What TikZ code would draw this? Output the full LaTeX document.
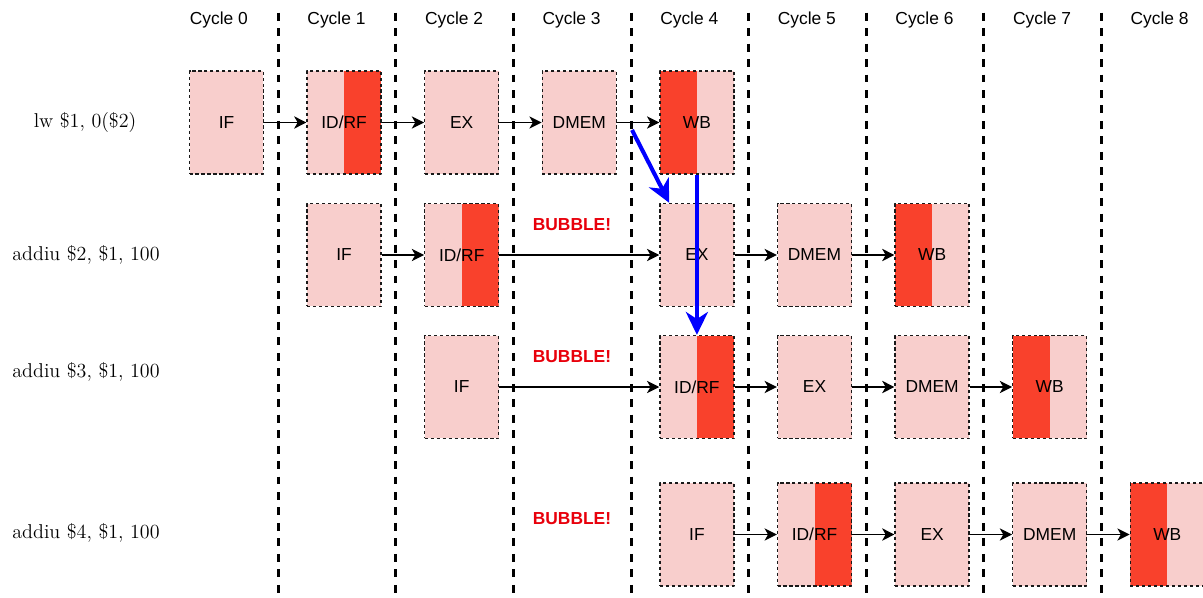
\documentclass[tikz,border=0pt]{standalone}
\usepackage{fontspec}
\usetikzlibrary{arrows.meta,calc}
\newfontfamily\sansfnt{Liberation Sans}
\definecolor{stagepink}{HTML}{F8CECC}
\definecolor{stagered}{HTML}{F9412C}
\definecolor{bubblered}{HTML}{E8000B}

\begin{document}
\begin{tikzpicture}[x=0.02cm, y=-0.02cm, line join=round,
  stage/.style={draw=black!90, dash pattern=on 1.8pt off 1.6pt, line width=0.75pt, fill=stagepink,
    minimum width=1.48cm, minimum height=2.06cm, inner sep=0pt, font=\sansfnt\fontsize{9.9}{12}\selectfont},
  redright/.style={stage, path picture={\fill[stagered] (path picture bounding box.south) rectangle (path picture bounding box.north east);}},
  redleft/.style={stage, path picture={\fill[stagered] (path picture bounding box.south west) rectangle (path picture bounding box.north);}},
  flow/.style={-{Stealth[length=7pt,width=7pt,inset=2pt]}, line width=0.75pt},
  fwd/.style={-{Stealth[length=13pt,width=12.5pt,inset=4pt]}, line width=2.3pt, blue},
  sep/.style={line width=1.7pt, dash pattern=on 4.5pt off 4.3pt},
  cyc/.style={anchor=west, inner sep=0pt, font=\sansfnt\fontsize{9.9}{12}\selectfont},
  instr/.style={inner sep=0pt, font=\fontsize{11.4}{13}\selectfont},
  bubble/.style={inner sep=0pt, text=bubblered, font=\sansfnt\bfseries\fontsize{9.9}{12}\selectfont}]
\useasboundingbox (0,0) rectangle (1203,598);

\foreach \k in {0,...,7}
  \draw[sep] ({278.3+117.6*\k},12.7) -- ({278.3+117.6*\k},600);
\foreach \k in {0,...,8}
  \node[cyc] (cyc\k) at ({189.5+117.6*\k},20) {Cycle \k};

\node[instr] (lw)  at (85,123) {lw \$1, 0(\$2)};
\node[instr] (ad2) at (86,255) {addiu \$2, \$1, 100};
\node[instr] (ad3) at (86,372) {addiu \$3, \$1, 100};
\node[instr] (ad4) at (86,533) {addiu \$4, \$1, 100};

% lw
\node[stage]    (if1)  at (226.5,122.5) {IF};
\node[redright] (id1)  at (344.1,122.5) {ID/RF};
\node[stage]    (ex1)  at (461.7,122.5) {EX};
\node[stage]    (mem1) at (579.3,122.5) {DMEM};
\node[redleft]  (wb1)  at (696.9,122.5) {WB};
% addiu $2
\node[stage]    (if2)  at (344.1,255) {IF};
\node[redright] (id2)  at (461.7,255) {ID/RF};
\node[stage]    (ex2)  at (696.9,255) {EX};
\node[stage]    (mem2) at (814.5,255) {DMEM};
\node[redleft]  (wb2)  at (932.1,255) {WB};
% addiu $3
\node[stage]    (if3)  at (461.7,387) {IF};
\node[redright] (id3)  at (696.9,387) {ID/RF};
\node[stage]    (ex3)  at (814.5,387) {EX};
\node[stage]    (mem3) at (932.1,387) {DMEM};
\node[redleft]  (wb3)  at (1049.7,387) {WB};
% addiu $4
\node[stage]    (if4)  at (696.9,534.5) {IF};
\node[redright] (id4)  at (814.5,534.5) {ID/RF};
\node[stage]    (ex4)  at (932.1,534.5) {EX};
\node[stage]    (mem4) at (1049.7,534.5) {DMEM};
\node[redleft]  (wb4)  at (1167.3,534.5) {WB};

\node[bubble] (bub2) at (572,225) {BUBBLE!};
\node[bubble] (bub3) at (572,357) {BUBBLE!};
\node[bubble] (bub4) at (572,519) {BUBBLE!};

\foreach \r in {1,...,4} {
  \draw[flow] (if\r) -- (id\r);
  \draw[flow] (id\r) -- (ex\r);
  \draw[flow] (ex\r) -- (mem\r);
  \draw[flow] (mem\r) -- (wb\r);
}

\coordinate (fwdA) at (632,130);
\draw[fwd] (fwdA) -- ($(ex2.north west)+(10,0)$);
\draw[fwd] (wb1.south) -- (id3.north);
\end{tikzpicture}
\end{document}
